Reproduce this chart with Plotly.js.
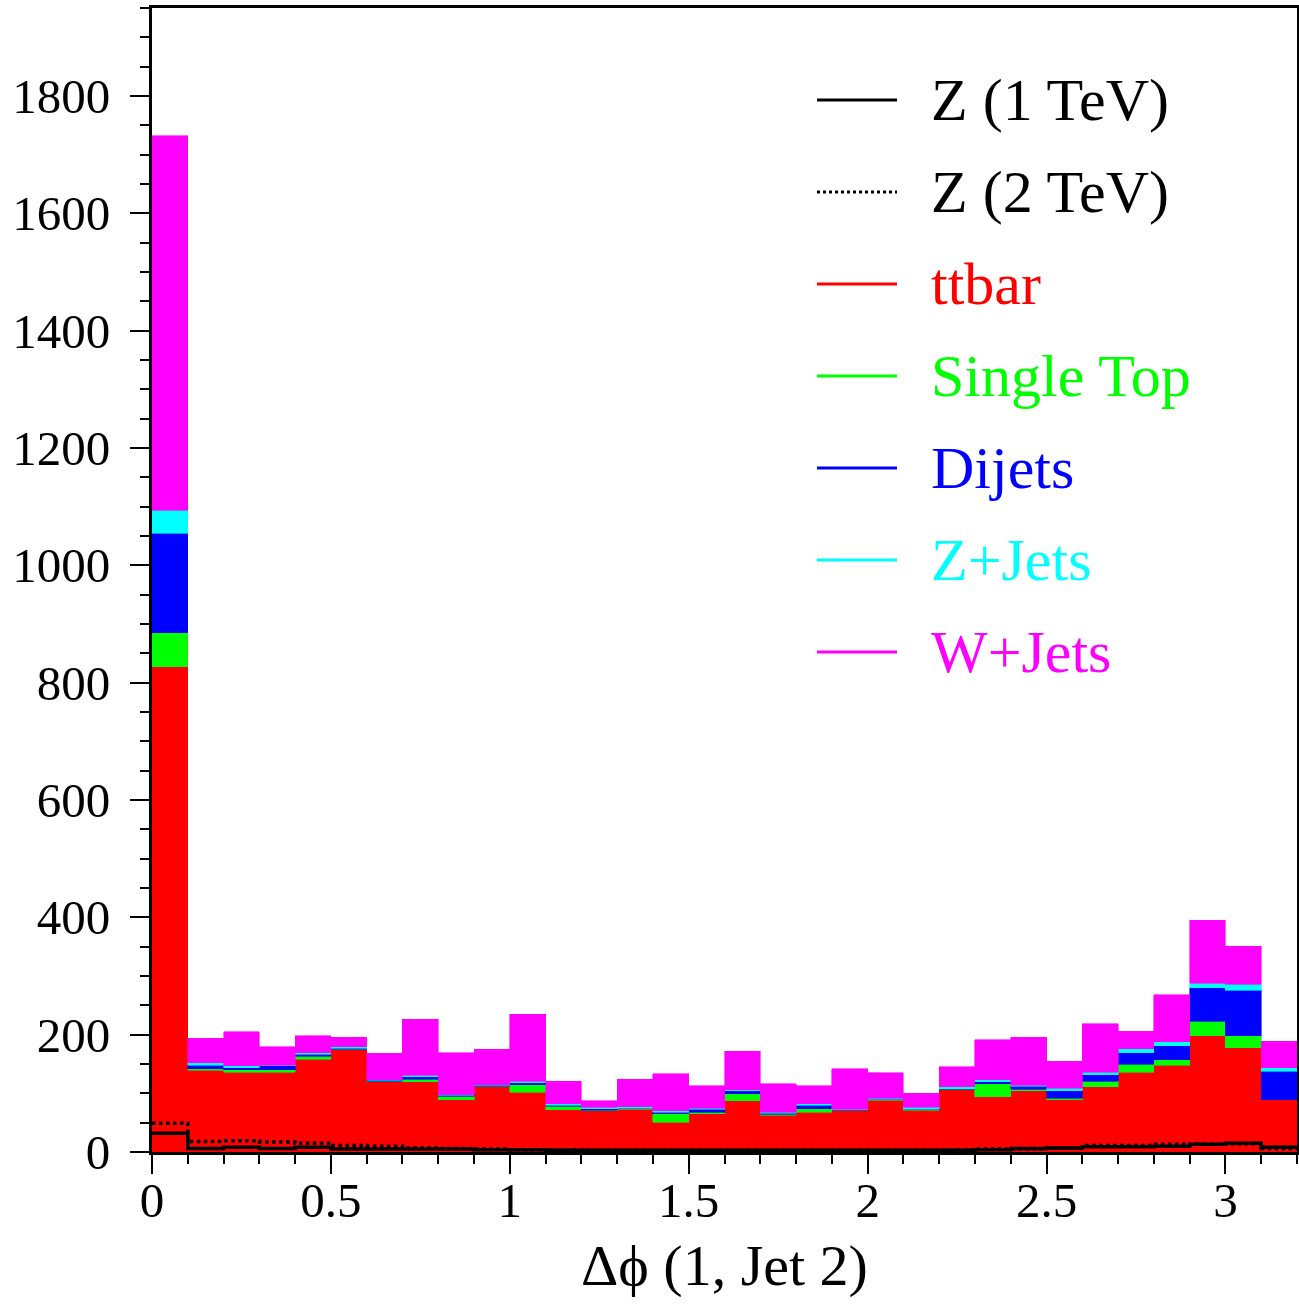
<!DOCTYPE html>
<html>
<head>
<meta charset="utf-8">
<script src="https://cdn.plot.ly/plotly-3.0.1.min.js"></script>
<style>
  html, body { margin: 0; padding: 0; background: #fff; }
  #chart { width: 1299px; height: 1310px; }
</style>
</head>
<body>
<div id="chart"></div>
<script>
// Bin centres (Δφ, width 0.1) and bin edges
const binCenters = [0.05,0.15,0.25,0.35,0.45,0.55,0.65,0.75,0.85,0.95,1.05,1.15,1.25,1.35,1.45,1.55,
                    1.65,1.75,1.85,1.95,2.05,2.15,2.25,2.35,2.45,2.55,2.65,2.75,2.85,2.95,3.05,3.15];
const binEdges = [0,0.1,0.2,0.3,0.4,0.5,0.6,0.7,0.8,0.9,1.0,1.1,1.2,1.3,1.4,1.5,1.6,
                  1.7,1.8,1.9,2.0,2.1,2.2,2.3,2.4,2.5,2.6,2.7,2.8,2.9,3.0,3.1,3.2];

// Stacked backgrounds (per-bin contributions)
const ttbar     = [827,139,136,136,158,174,120,120,89,111,102,72,70,73,51,65,87,63,68,71,88,71,106,94,104,89,111,136,148,198,178,89];
const singleTop = [58,3,4,4,5,1,1,4,6,1,13,6,1,1,14,3,12,1,6,0,1,1,1,22,3,3,10,14,9,25,20,0];
const dijets    = [170,6,4,7,4,2,1,4,2,2,3,2,3,1,3,5,5,2,6,1,1,1,1,4,5,12,11,19,24,57,78,49];
const zJets     = [39,4,3,1,2,2,1,3,1,1,3,2,2,2,2,2,2,2,2,1,2,3,3,3,2,5,4,7,7,8,10,6];
const wJets     = [638,42,58,31,29,17,45,95,71,60,114,39,11,47,63,38,66,48,31,69,43,24,34,68,82,46,83,30,80,107,65,45];

// Signal lines
const z1TeV = [32,6,8,6,8,5,5,5,5,4,4,3,3,3,3,3,3,3,3,3,3,3,3,4,6,7,9,9,10,13,15,8];
const z2TeV = [49,18,19,17,15,11,10,7,6,5,4,4,3,3,3,3,3,3,3,3,3,3,4,5,5,7,11,11,13,13,14,6];

const seriesNames  = ["Z (1 TeV)","Z (2 TeV)","ttbar","Single Top","Dijets","Z+Jets","W+Jets"];
const seriesColors = ["#000000","#000000","#ff0000","#00ff00","#0000ff","#00ffff","#ff00ff"];
const seriesDash   = ["solid","dot","solid","solid","solid","solid","solid"];

const stackData = [ttbar, singleTop, dijets, zJets, wJets];
const traces = [];
stackData.forEach((vals, k) => {
  const c = seriesColors[k + 2];
  traces.push({
    type: "bar", x: binCenters, y: vals, width: 0.1,
    name: seriesNames[k + 2], showlegend: false,
    marker: { color: c, line: { color: c, width: 0.6 } },
    hoverinfo: "skip"
  });
});
[[z1TeV, 0], [z2TeV, 1]].forEach(([vals, k]) => {
  traces.push({
    type: "scatter", mode: "lines", x: binEdges, y: vals.concat([vals[vals.length - 1]]),
    name: seriesNames[k], showlegend: false,
    line: { color: seriesColors[k], width: 3.5, dash: seriesDash[k], shape: "hv" },
    hoverinfo: "skip"
  });
});

// Manual legend (line sample + coloured text)
const W = 1299, H = 1310, mL = 152, mR = 2, mT = 8, mB = 158;
const pw = W - mL - mR, ph = H - mT - mB;
const px2x = p => (p - mL) / pw;
const py2y = p => (H - mB - p) / ph;
const rowY0 = 100, rowPitch = 92;
const shapes = [], annotations = [];
seriesNames.forEach((n, i) => {
  const yy = py2y(rowY0 + i * rowPitch);
  shapes.push({ type: "line", xref: "paper", yref: "paper",
    x0: px2x(817), x1: px2x(897), y0: yy, y1: yy,
    line: { color: seriesColors[i], width: 3, dash: seriesDash[i] } });
  annotations.push({ xref: "paper", yref: "paper", x: px2x(929), y: yy,
    xanchor: "left", yanchor: "middle", showarrow: false, text: n,
    font: { family: "Liberation Serif, Times New Roman, serif", size: 60, color: seriesColors[i] } });
});

const axisFont = { family: "Liberation Serif, Times New Roman, serif", size: 49, color: "#000" };
const layout = {
  width: W, height: H,
  margin: { l: mL, r: mR, t: mT, b: mB, pad: 0 },
  paper_bgcolor: "#fff", plot_bgcolor: "#fff",
  barmode: "stack", bargap: 0,
  showlegend: false,
  xaxis: {
    range: [0, 3.2], tickmode: "linear", tick0: 0, dtick: 0.5,
    ticks: "outside", ticklen: 19, tickwidth: 2, tickcolor: "#000",
    minor: { tickmode: "linear", tick0: 0, dtick: 0.1, ticks: "outside", ticklen: 9, tickwidth: 2, tickcolor: "#000", showgrid: false },
    showline: true, linewidth: 3, linecolor: "#000", mirror: true,
    showgrid: false, zeroline: false, tickfont: axisFont, ticklabelstandoff: -16,
    title: { text: "Δϕ (1, Jet 2)", font: { family: "Liberation Serif, Times New Roman, serif", size: 58, color: "#000" }, standoff: 18 }
  },
  yaxis: {
    range: [0, 1950], tickmode: "linear", tick0: 0, dtick: 200,
    ticks: "outside", ticklen: 19, tickwidth: 2, tickcolor: "#000",
    minor: { tickmode: "linear", tick0: 0, dtick: 50, ticks: "outside", ticklen: 9, tickwidth: 2, tickcolor: "#000", showgrid: false },
    showline: true, linewidth: 3, linecolor: "#000", mirror: true,
    showgrid: false, zeroline: false, tickfont: axisFont, ticklabelstandoff: 10
  },
  shapes: shapes,
  annotations: annotations
};

Plotly.newPlot("chart", traces, layout, { displayModeBar: false, staticPlot: true });
</script>
</body>
</html>
